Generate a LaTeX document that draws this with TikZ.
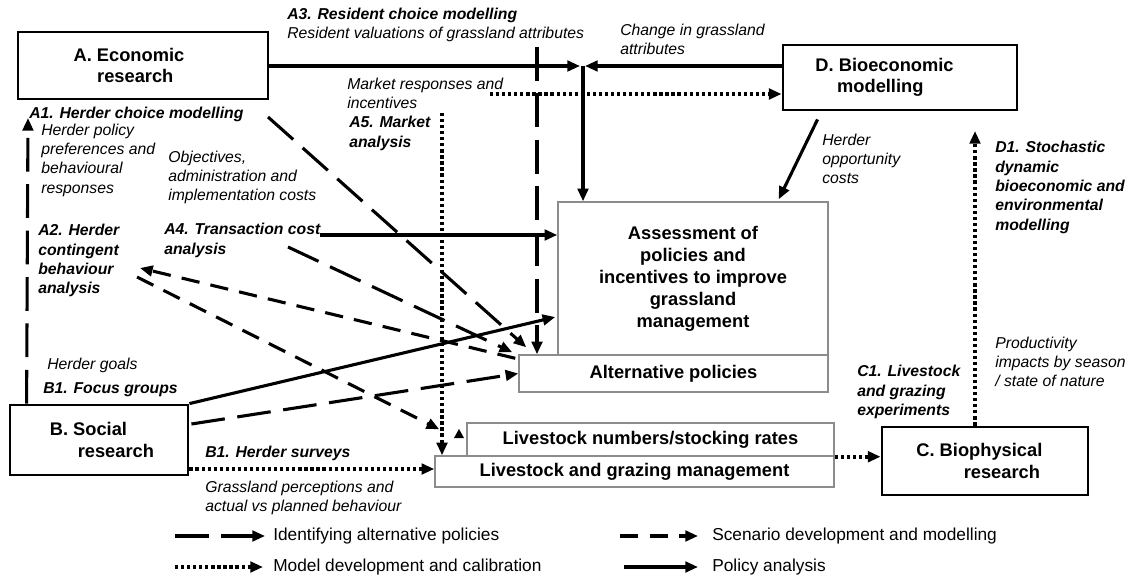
\documentclass[tikz,border=0pt]{standalone}
\usepackage{fontspec}
\setmainfont{Liberation Sans}
\usetikzlibrary{arrows.meta}
\usetikzlibrary{calc}

\tikzset{
  mainbox/.style={draw=black, line width=2pt, align=center, inner sep=0pt,
    font=\fontsize{13}{15}\selectfont\bfseries},
  subbox/.style={draw=black!45, line width=1pt, fill=white, align=center, inner sep=0pt,
    font=\fontsize{13}{15.6}\selectfont\bfseries},
  note/.style={anchor=north west, align=left, inner sep=0pt,
    font=\fontsize{11.2}{13.6}\selectfont\itshape},
  stepnote/.style={note, font=\fontsize{11.2}{13.8}\selectfont\bfseries\itshape},
  key/.style={anchor=west, inner sep=0pt, font=\fontsize{12.3}{14}\selectfont},
  policyline/.style={-{Triangle[length=9pt,width=7.5pt]}, line width=2.2pt},
  identline/.style={policyline, dash pattern=on 24pt off 9pt},
  scenline/.style={policyline, dash pattern=on 13pt off 8pt},
  calibline/.style={policyline, line width=2.6pt, dash pattern=on 2.3pt off 2pt},
}

\begin{document}
\begin{tikzpicture}[x=0.025cm, y=-0.025cm]
\useasboundingbox (0,0) rectangle (1131,586);

% research boxes
\node[mainbox, minimum width=6.25cm, minimum height=1.675cm] (econ) at (143,65.5)
  {A. Economic\hspace*{20pt}\\research\hspace*{11pt}};
\node[mainbox, minimum width=5.85cm, minimum height=1.625cm] (bioecon) at (900,77.5)
  {D. Bioeconomic\hspace*{22pt}\\modelling\hspace*{28pt}};
\node[mainbox, minimum width=4.45cm, minimum height=1.75cm] (social) at (99,440)
  {B. Social\hspace*{15pt}\\\hspace*{24pt}research};
\node[mainbox, minimum width=5.15cm, minimum height=1.7cm] (biophys) at (985,461)
  {C. Biophysical\hspace*{8pt}\\\hspace*{24pt}research};

% policy boxes
\node[subbox, minimum width=6.75cm, minimum height=3.825cm] (assess) at (693,278.5)
  {Assessment of\\policies and\\incentives to improve\\grassland\\management};
\node[subbox, minimum width=7.725cm, minimum height=0.925cm] (altpol) at (673.5,373.5)
  {Alternative policies};
\node[subbox, minimum width=9.175cm, minimum height=0.825cm] (stock) at (650.5,439.5)
  {Livestock numbers/stocking rates};
\node[subbox, minimum width=9.975cm, minimum height=0.775cm] (graze) at (634.5,471.5)
  {Livestock and grazing management};

% labels
\node[stepnote] (a3) at (287,8) {A3. Resident choice modelling};
\node[note] (a3txt) at (287,27) {Resident valuations of grassland attributes};
\node[note] (dtxt) at (620,24) {Change in grassland\\attributes};
\node[note] (mkttxt) at (347,78) {Market responses and\\incentives};
\node[stepnote] (a5) at (349,116) {A5. Market\\analysis};
\node[stepnote] (a1) at (29,107) {A1. Herder choice modelling};
\node[note] (a1txt) at (41,124) {Herder policy\\preferences and\\behavioural\\responses};
\node[note] (a4txt) at (168,151) {Objectives,\\administration and\\implementation costs};
\node[stepnote] (a4) at (164,223) {A4. Transaction cost\\analysis};
\node[stepnote] (a2) at (38,224) {A2. Herder\\contingent\\behaviour\\analysis};
\node[note] (b1txt) at (47,358) {Herder goals};
\node[stepnote] (b1) at (43,382) {B1. Focus groups};
\node[stepnote] (b2) at (205,446) {B1. Herder surveys};
\node[note] (b2txt) at (205,481) {Grassland perceptions and\\actual vs planned behaviour};
\node[note] (opptxt) at (822,134) {Herder\\opportunity\\costs};
\node[stepnote] (d1) at (995,141) {D1. Stochastic\\dynamic\\bioeconomic and\\environmental\\modelling};
\node[note] (c1txt) at (995,337) {Productivity\\impacts by season\\/ state of nature};
\node[stepnote] (c1) at (857,365) {C1. Livestock\\and grazing\\experiments};

% free ends
\coordinate (meet) at (583,66);
\coordinate (a3top) at (537,47);
\coordinate (mkt) at (490,94);
\coordinate (a5top) at (442,113);
\coordinate (a1end) at (268,117);
\coordinate (a4end) at (320,235);
\coordinate (a4dash) at (288,247);
\coordinate (a2tip) at (140,268);
\coordinate (a2end) at (137,277);
\coordinate (a1tip) at (28,118);
\coordinate (d1top) at (975,131);
\coordinate (svy) at ($(social.east)+(0,29)$);

% connectors
\draw[policyline] (econ.east |- meet) -- ($(meet)+(-3,0)$);
\draw[policyline] (bioecon.west |- meet) -- ($(meet)+(2,0)$);
\draw[policyline] (meet) -- (meet |- assess.north);
\draw[identline] (a3top) -- (a3top |- altpol.north);
\draw[calibline] (mkt) -- (bioecon.west |- mkt);
\draw[calibline] (a5top) -- (a5top |- graze.north);
\draw[identline] (a1end) -- ($(altpol.north west)+(8,-7)$);
\draw[policyline] (a4end) -- (assess.west |- a4end);
\draw[identline] (a4dash) -- ($(altpol.north west)+(-6,-2)$);
\draw[scenline] ($(altpol.north west)+(-3,4)$) -- (a2tip);
\draw[scenline] (a2end) -- ($(stock.north west)+(-27,7)$);
\draw[policyline] (social.north east) -- ($(assess.west)+(-2,38.5)$);
\draw[identline] ($(social.east)+(2,-16)$) -- (altpol.west);
\draw[identline] ($(social.north west)+(18,0)$) -- (a1tip);
\draw[calibline] (svy) -- (graze.west |- svy);
\draw[calibline] (stock.south east) -- (biophys.west |- stock.south east);
\draw[policyline] ($(bioecon.south west)+(36,8)$) -- ($(assess.north east)+(-50,-2)$);
\draw[calibline] (biophys.north -| d1top) -- (d1top);
\fill (454,438) -- (464,438) -- (459,429) -- cycle;

% legend
\node[key] (k1) at (273,536) {Identifying alternative policies};
\node[key] (k2) at (273,567) {Model development and calibration};
\node[key] (k3) at (712,536) {Scenario development and modelling};
\node[key] (k4) at (712,567) {Policy analysis};
\draw[identline] (175,536) -- ($(k1.west)+(-8,0)$);
\draw[calibline] (175,567) -- ($(k2.west)+(-10,0)$);
\draw[scenline] (620,536) -- ($(k3.west)+(-14,0)$);
\draw[policyline] (624,567) -- ($(k4.west)+(-14,0)$);
\end{tikzpicture}
\end{document}
